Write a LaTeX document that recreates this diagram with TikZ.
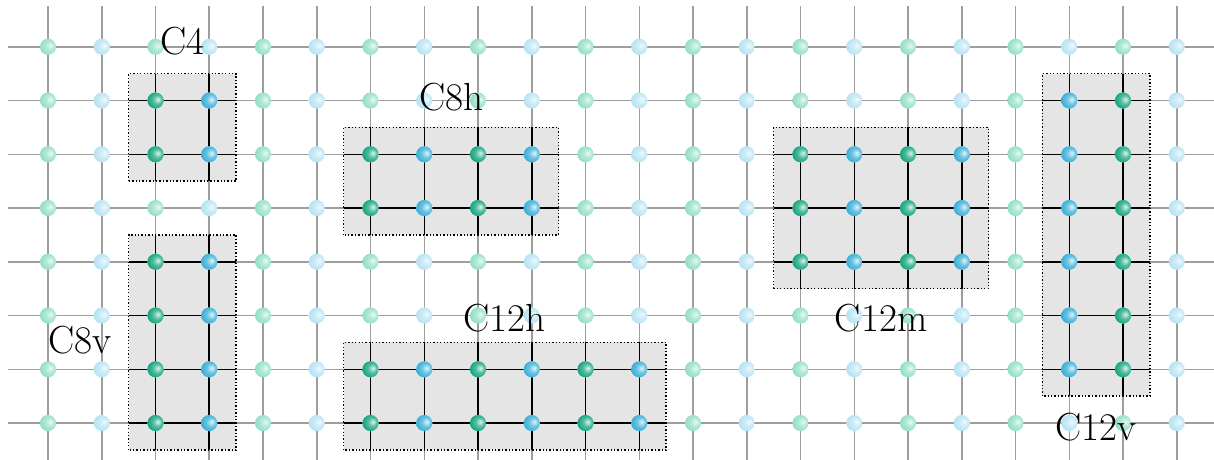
\documentclass[tikz,border=0pt]{standalone}
\definecolor{sg}{RGB}{22,165,128}
\definecolor{sb}{RGB}{58,175,215}
\definecolor{pg}{RGB}{150,224,202}
\definecolor{pb}{RGB}{185,228,244}
\pgfdeclareradialshading{gsat}{\pgfpoint{8bp}{4bp}}{color(0bp)=(sg!15!white); color(14bp)=(sg!75!white); color(28bp)=(sg); color(44bp)=(sg!80!black); color(50bp)=(sg!72!black)}
\pgfdeclareradialshading{bsat}{\pgfpoint{8bp}{4bp}}{color(0bp)=(sb!15!white); color(14bp)=(sb!75!white); color(28bp)=(sb); color(44bp)=(sb!80!black); color(50bp)=(sb!72!black)}
\pgfdeclareradialshading{gpale}{\pgfpoint{8bp}{4bp}}{color(0bp)=(pg!20!white); color(12bp)=(pg!70!white); color(26bp)=(pg); color(50bp)=(pg!90!black)}
\pgfdeclareradialshading{bpale}{\pgfpoint{8bp}{4bp}}{color(0bp)=(pb!20!white); color(12bp)=(pb!70!white); color(26bp)=(pb); color(50bp)=(pb!92!black)}
\begin{document}
\begin{tikzpicture}[x=1cm,y=1cm,
  gridline/.style={draw=black!38, line width=0.8pt},
  innerline/.style={draw=black, line width=0.8pt},
  boxfill/.style={fill=black!10},
  boxborder/.style={draw=black, line width=0.7pt, dash pattern=on 0.7pt off 1.1pt},
  site/.style={circle, minimum size=0.3cm, inner sep=0pt, shade},
  lbl/.style={font=\huge, inner sep=1pt}]
\useasboundingbox (-0.893,-0.670) rectangle (21.693,7.870);
% cluster box fills
\foreach \ca/\cb/\ya/\yb in {2/3/5/6, 2/3/0/3, 6/9/4/5, 6/11/0/1, 14/17/3/5, 19/20/1/6}{
  \path[boxfill] (\ca-0.5,\ya-0.5) rectangle (\cb+0.5,\yb+0.5);
}
% grey lattice
\foreach \c in {0,...,21} \draw[gridline] (\c,-0.75) -- (\c,7.75);
\foreach \r in {0,...,7} \draw[gridline] (-0.75,\r) -- (21.75,\r);
% black lines and borders of clusters
\foreach \ca/\cb/\ya/\yb in {2/3/5/6, 2/3/0/3, 6/9/4/5, 6/11/0/1, 14/17/3/5, 19/20/1/6}{
  \foreach \c in {\ca,...,\cb} \draw[innerline] (\c,\ya-0.5) -- (\c,\yb+0.5);
  \foreach \r in {\ya,...,\yb} \draw[innerline] (\ca-0.5,\r) -- (\cb+0.5,\r);
  \draw[boxborder] (\ca-0.5,\ya-0.5) rectangle (\cb+0.5,\yb+0.5);
}
% pale sites
\foreach \c in {0,...,21}{
  \foreach \r in {0,...,7}{
    \ifodd\c \def\bc{bpale}\else\def\bc{gpale}\fi
    \node[site, shading=\bc] (p-\c-\r) at (\c,\r) {};
  }
}
% cluster sites
\foreach \ca/\cb/\ya/\yb in {2/3/5/6, 2/3/0/3, 6/9/4/5, 6/11/0/1, 14/17/3/5, 19/20/1/6}{
  \foreach \c in {\ca,...,\cb}{
    \foreach \r in {\ya,...,\yb}{
      \ifodd\c \def\bc{bsat}\else\def\bc{gsat}\fi
      \node[site, shading=\bc] (s-\c-\r) at (\c,\r) {};
    }
  }
}
% labels
\node[lbl] (lC4) at (2.5,7.10) {C4};
\node[lbl] (lC8v) at (0.6,1.55) {C8v};
\node[lbl] (lC8h) at (7.5,6.07) {C8h};
\node[lbl] (lC12h) at (8.5,1.96) {C12h};
\node[lbl] (lC12m) at (15.5,1.95) {C12m};
\node[lbl] (lC12v) at (19.5,-0.07) {C12v};
\end{tikzpicture}
\end{document}
